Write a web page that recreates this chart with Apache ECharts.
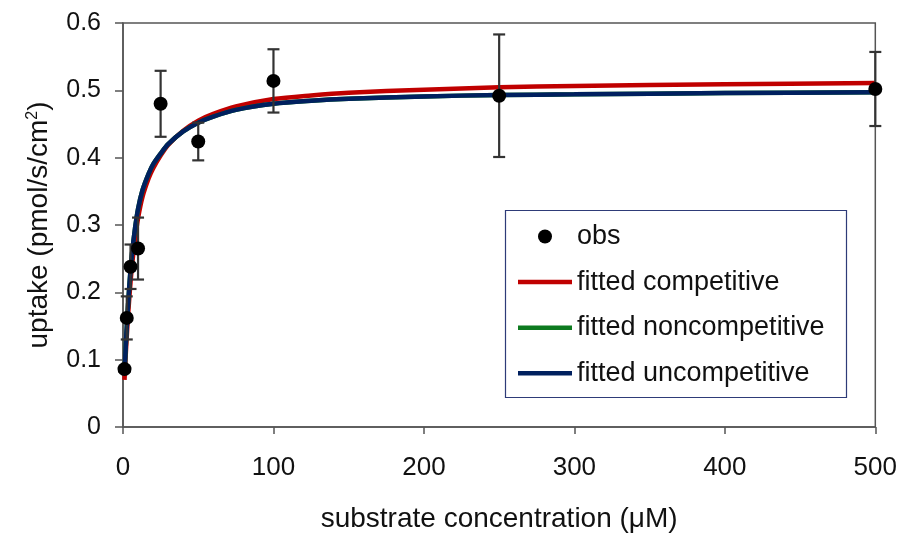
<!DOCTYPE html>
<html>
<head>
<meta charset="utf-8">
<script src="https://cdn.jsdelivr.net/npm/echarts@6/dist/echarts.min.js"></script>
<style>
  html, body { margin: 0; padding: 0; background: #fff; }
  #chart { width: 900px; height: 538px; }
</style>
</head>
<body>
<div id="chart"></div>
<script>
// Observed uptake (mean ± error) at each substrate concentration
const concentration = [1, 2.5, 5, 10, 25, 50, 100, 250, 500];
const uptakeObs = [0.086, 0.162, 0.238, 0.265, 0.480, 0.424, 0.514, 0.492, 0.502];
const uptakeErr = [0.004, 0.032, 0.033, 0.046, 0.049, 0.028, 0.047, 0.091, 0.055];

// Fitted model curves, sampled along the concentration range
const fitConc = [1, 2, 3, 4, 5, 6, 8, 10, 13, 17, 20, 25, 30, 40, 50, 60, 75, 100, 125, 150, 200, 250, 300, 400, 500];
const fitCompetitive = [0.070, 0.115, 0.153, 0.186, 0.215, 0.240, 0.279, 0.310, 0.342, 0.369, 0.384, 0.403, 0.419, 0.440, 0.455, 0.465, 0.476, 0.487, 0.4925, 0.4965, 0.501, 0.5045, 0.5065, 0.509, 0.511];
const fitNoncompetitive = [0.078, 0.128, 0.168, 0.203, 0.233, 0.258, 0.295, 0.324, 0.352, 0.376, 0.390, 0.406, 0.420, 0.439, 0.452, 0.461, 0.471, 0.480, 0.4845, 0.4875, 0.491, 0.493, 0.494, 0.496, 0.497];
const fitUncompetitive = [0.078, 0.128, 0.168, 0.203, 0.233, 0.258, 0.295, 0.324, 0.352, 0.376, 0.390, 0.406, 0.420, 0.439, 0.452, 0.461, 0.471, 0.480, 0.4845, 0.4875, 0.491, 0.493, 0.494, 0.496, 0.497];

const seriesNames = ['obs', 'fitted competitive', 'fitted noncompetitive', 'fitted uncompetitive'];

const pairs = (xs, ys) => xs.map((x, i) => [x, ys[i]]);
const obsData = pairs(concentration, uptakeObs);
const errData = concentration.map((x, i) => [x, uptakeObs[i] - uptakeErr[i], uptakeObs[i] + uptakeErr[i]]);

const FONT = '"Liberation Sans", Arial, sans-serif';
// thick horizontal bar used as the legend icon of the fitted lines
const LINE_ICON = 'path://M0,0H54V4.5H0Z';

const chart = echarts.init(document.getElementById('chart'), null, { renderer: 'canvas' });

chart.setOption({
  animation: false,
  backgroundColor: '#fff',
  textStyle: { fontFamily: FONT },
  grid: {
    left: 123, right: 23, top: 23, bottom: 109,
    show: true, borderColor: '#555', borderWidth: 1.5, backgroundColor: 'transparent'
  },
  xAxis: {
    type: 'value', min: 0, max: 500, interval: 100,
    name: 'substrate concentration (μM)',
    nameLocation: 'middle', nameGap: 78,
    nameTextStyle: { fontSize: 28, color: '#111', fontFamily: FONT },
    axisLine: { show: true, lineStyle: { color: '#555', width: 1.5 } },
    axisTick: { show: true, inside: false, length: 7, lineStyle: { color: '#555', width: 1.5 } },
    axisLabel: { fontSize: 26, color: '#111', margin: 28, fontFamily: FONT },
    splitLine: { show: false }
  },
  yAxis: {
    type: 'value', min: 0, max: 0.6, interval: 0.1,
    name: '{t|uptake (pmol/s/cm}{s|2}{t|)}',
    nameLocation: 'middle', nameGap: 70, nameRotate: 90,
    nameTextStyle: {
      color: '#111', fontFamily: FONT,
      rich: {
        t: { fontSize: 28, color: '#111', fontFamily: FONT },
        s: { fontSize: 16, color: '#111', fontFamily: FONT, verticalAlign: 'top', padding: [0, 0, 12, 0] }
      }
    },
    axisLine: { show: true, lineStyle: { color: '#555', width: 1.5 } },
    axisTick: { show: true, inside: false, length: 8, lineStyle: { color: '#555', width: 1.5 } },
    axisLabel: { fontSize: 25, color: '#111', margin: 22, fontFamily: FONT },
    splitLine: { show: false }
  },
  legend: {
    orient: 'vertical',
    left: 518, top: 223,
    itemWidth: 54, itemHeight: 14, itemGap: 18.6,
    padding: 0,
    data: [
      { name: seriesNames[0], icon: 'circle' },
      { name: seriesNames[1], icon: LINE_ICON },
      { name: seriesNames[2], icon: LINE_ICON },
      { name: seriesNames[3], icon: LINE_ICON }
    ],
    textStyle: { fontSize: 27, color: '#111', fontFamily: FONT, lineHeight: 27, padding: [0, 0, 0, 0] }
  },
  graphic: [{
    type: 'rect', z: 3,
    shape: { x: 505.5, y: 210.5, width: 341, height: 187 },
    style: { fill: '#fff', stroke: '#2e3b78', lineWidth: 1.2 }
  }],
  series: [
    {
      name: 'fitted competitive', type: 'line', data: pairs(fitConc, fitCompetitive),
      symbol: 'none', smooth: 0.3, z: 2,
      lineStyle: { color: '#c00000', width: 4.5 }, itemStyle: { color: '#c00000' }
    },
    {
      name: 'fitted noncompetitive', type: 'line', data: pairs(fitConc, fitNoncompetitive),
      symbol: 'none', smooth: 0.3, z: 2,
      lineStyle: { color: '#0d7a1f', width: 4.5 }, itemStyle: { color: '#0d7a1f' }
    },
    {
      name: 'fitted uncompetitive', type: 'line', data: pairs(fitConc, fitUncompetitive),
      symbol: 'none', smooth: 0.3, z: 2,
      lineStyle: { color: '#00205f', width: 4.5 }, itemStyle: { color: '#00205f' }
    },
    {
      name: 'obs error', type: 'custom', z: 4,
      data: errData,
      encode: { x: 0, y: [1, 2] },
      renderItem: function (params, api) {
        const x = api.value(0);
        const lo = api.coord([x, api.value(1)]);
        const hi = api.coord([x, api.value(2)]);
        const cap = 6;
        const style = { stroke: '#333', lineWidth: 2.2 };
        return {
          type: 'group',
          children: [
            { type: 'line', shape: { x1: lo[0], y1: lo[1], x2: hi[0], y2: hi[1] }, style: style },
            { type: 'line', shape: { x1: lo[0] - cap, y1: lo[1], x2: lo[0] + cap, y2: lo[1] }, style: style },
            { type: 'line', shape: { x1: hi[0] - cap, y1: hi[1], x2: hi[0] + cap, y2: hi[1] }, style: style }
          ]
        };
      }
    },
    {
      name: 'obs', type: 'scatter', data: obsData, z: 5,
      symbol: 'circle', symbolSize: 14,
      itemStyle: { color: '#000', opacity: 1 }
    }
  ]
});
</script>
</body>
</html>
